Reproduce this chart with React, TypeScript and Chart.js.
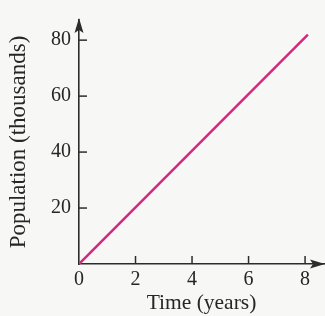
import React, { useEffect, useRef } from "react";
import { Chart, registerables } from "chart.js";

Chart.register(...registerables);

const timeYears = [0, 8.1];
const populationThousands = [0, 82];
const xTickValues = [0, 2, 4, 6, 8];
const yTickValues = [20, 40, 60, 80];
const xAxisTitle = "Time (years)";
const yAxisTitle = "Population (thousands)";

const AXIS_COLOR = "#2c2c2c";
const TEXT_COLOR = "#262626";
const LINE_COLOR = "#d4287f";
const FONT = "'Liberation Serif', 'Times New Roman', serif";

const axisDecor = {
  id: "axisDecor",
  afterDraw(chart: any) {
    const { ctx, chartArea, scales } = chart;
    const xs = scales.x;
    const ys = scales.y;
    const x0 = chartArea.left;
    const y0 = chartArea.bottom;
    ctx.save();
    ctx.strokeStyle = AXIS_COLOR;
    ctx.fillStyle = AXIS_COLOR;
    ctx.lineWidth = 1.5;
    // inward tick marks
    xTickValues.forEach((v) => {
      if (v === 0) return;
      const px = xs.getPixelForValue(v);
      ctx.beginPath();
      ctx.moveTo(px, y0);
      ctx.lineTo(px, y0 - 8);
      ctx.stroke();
    });
    yTickValues.forEach((v) => {
      const py = ys.getPixelForValue(v);
      ctx.beginPath();
      ctx.moveTo(x0, py);
      ctx.lineTo(x0 + 8, py);
      ctx.stroke();
    });
    // arrowheads
    const top = chartArea.top;
    ctx.beginPath();
    ctx.moveTo(x0, top - 2);
    ctx.lineTo(x0 - 4.5, top + 13);
    ctx.lineTo(x0, top + 10);
    ctx.lineTo(x0 + 4.5, top + 13);
    ctx.closePath();
    ctx.fill();
    const right = chartArea.right;
    ctx.beginPath();
    ctx.moveTo(right + 1, y0);
    ctx.lineTo(right - 14, y0 - 4.5);
    ctx.lineTo(right - 11, y0);
    ctx.lineTo(right - 14, y0 + 4.5);
    ctx.closePath();
    ctx.fill();
    ctx.restore();
  },
};

export default function App() {
  const ref = useRef<HTMLCanvasElement | null>(null);

  useEffect(() => {
    if (!ref.current) return;
    const points = timeYears.map((t, i) => ({ x: t, y: populationThousands[i] }));
    const chart = new Chart(ref.current, {
      type: "scatter",
      data: {
        datasets: [
          {
            data: points,
            showLine: true,
            borderColor: LINE_COLOR,
            borderWidth: 2.5,
            pointRadius: 0,
            pointHoverRadius: 0,
          },
        ],
      },
      options: {
        animation: false,
        responsive: false,
        maintainAspectRatio: false,
        layout: { padding: { top: 19, right: 1, left: 0, bottom: 0 } },
        plugins: { legend: { display: false }, tooltip: { enabled: false } },
        scales: {
          x: {
            type: "linear",
            min: 0,
            max: 8.67,
            afterFit(scale: any) {
              scale.height = 52;
            },
            afterBuildTicks(scale: any) {
              scale.ticks = xTickValues.map((v) => ({ value: v }));
            },
            ticks: {
              includeBounds: false,
              padding: 4,
              maxRotation: 0,
              autoSkip: false,
              color: TEXT_COLOR,
              font: { family: FONT, size: 20 },
            },
            grid: { display: false, drawTicks: false },
            border: { display: true, color: AXIS_COLOR, width: 1.6 },
            title: {
              display: true,
              text: xAxisTitle,
              color: TEXT_COLOR,
              font: { family: FONT, size: 21.5 },
              padding: { top: 0, bottom: 0 },
            },
          },
          y: {
            type: "linear",
            min: 0,
            max: 87.2,
            afterFit(scale: any) {
              scale.width = 79;
            },
            afterBuildTicks(scale: any) {
              scale.ticks = yTickValues.map((v) => ({ value: v }));
            },
            ticks: {
              includeBounds: false,
              padding: 8,
              autoSkip: false,
              color: TEXT_COLOR,
              font: { family: FONT, size: 20 },
            },
            grid: { display: false, drawTicks: false },
            border: { display: true, color: AXIS_COLOR, width: 1.6 },
            title: {
              display: true,
              text: yAxisTitle,
              color: TEXT_COLOR,
              font: { family: FONT, size: 23 },
              padding: { top: 5, bottom: 0 },
            },
          },
        },
      },
      plugins: [axisDecor],
    });
    return () => chart.destroy();
  }, []);

  return (
    <div
      style={{
        position: "fixed",
        left: 0,
        top: 0,
        width: 325,
        height: 316,
        background: "#f7f7f5",
      }}
    >
      <canvas ref={ref} width={325} height={316} style={{ display: "block" }} />
    </div>
  );
}
